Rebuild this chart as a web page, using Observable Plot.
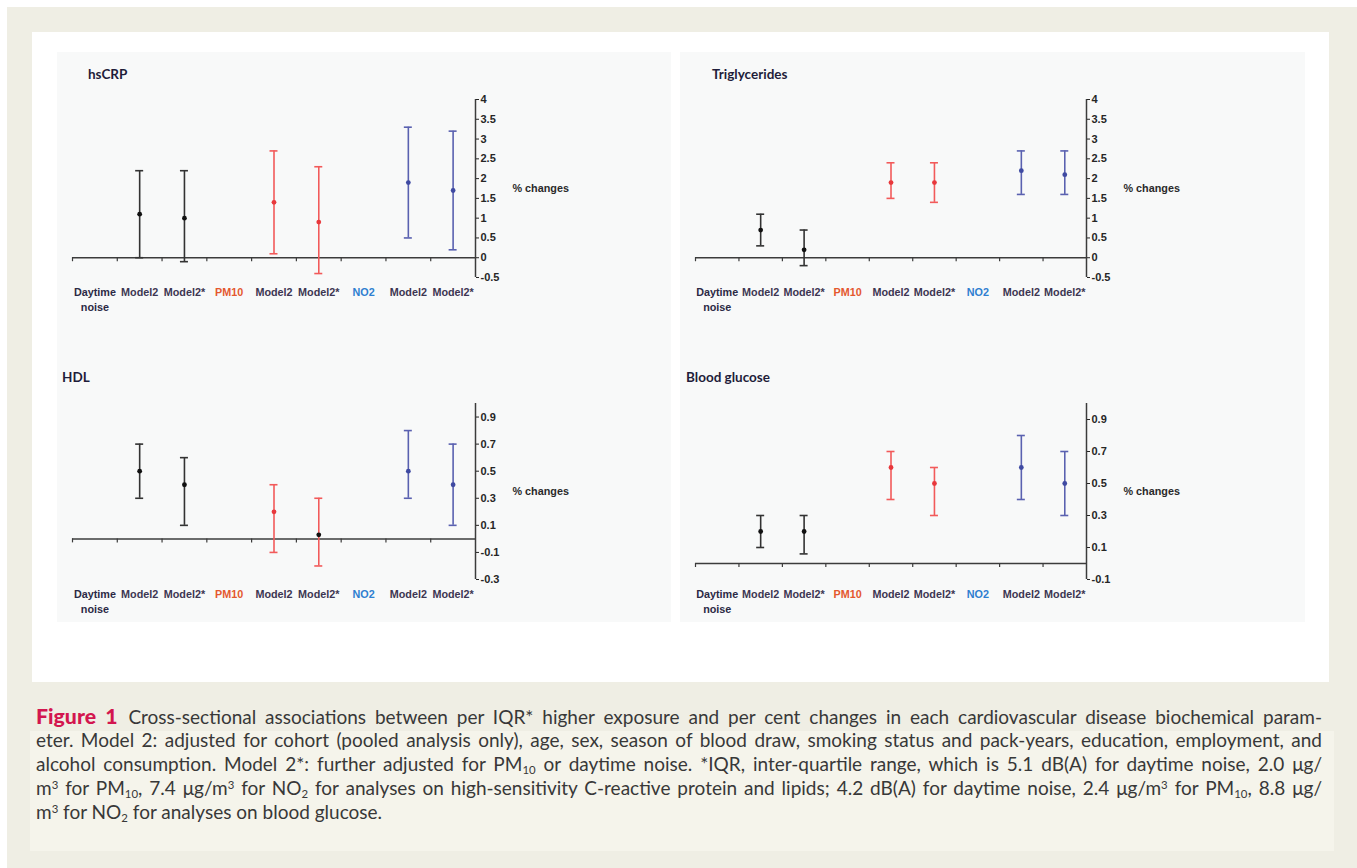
<!DOCTYPE html>
<html>
<head>
<meta charset="utf-8">
<script src="https://cdn.jsdelivr.net/npm/d3@7"></script>
<script src="https://cdn.jsdelivr.net/npm/@observablehq/plot@0.6"></script>
<style>
  html, body { margin: 0; padding: 0; background: #ffffff; }
  #root { position: relative; width: 1357px; height: 868px; overflow: hidden; font-family: "Liberation Sans", Arial, sans-serif; }
  .abs { position: absolute; }
  .title { position: absolute; font-family: Lato, "Open Sans", sans-serif; font-weight: 700; font-size: 13.5px; color: #1f1d3a; line-height: 1; transform: translateY(-50%); white-space: nowrap; }
  .cap { position: absolute; left: 36px; width: 1286px; font-family: Lato, "Open Sans", sans-serif; font-size: 18px; color: #383838; white-space: nowrap; text-align: justify; text-align-last: justify; line-height: 24px; height: 24px; }
  .cap.last { text-align-last: left; }
  .cap .sb, .cap .sp { font-size: 0.6em; line-height: 1; position: relative; vertical-align: baseline; display: inline-block; }
  .cap .sb { top: 0.3em; }
  .cap .sp { top: -0.55em; }
  .fig { color: #d3164f; font-weight: 900; font-size: 1.12em; margin-right: 2px; }
  svg { overflow: visible; }
</style>
</head>
<body>
<div id="root">
  <div class="abs" style="left:7px;top:7px;width:1350px;height:861px;background:#efeee4;"></div>
  <div class="abs" style="left:30px;top:731px;width:1304px;height:120px;background:#f5f4eb;"></div>
  <div class="abs" style="left:32px;top:32px;width:1297px;height:650px;background:#ffffff;"></div>
  <div class="abs" style="left:57px;top:52px;width:614px;height:570px;background:#f8f9f9;"></div>
  <div class="abs" style="left:680px;top:52px;width:625px;height:570px;background:#f8f9f9;"></div>
  <div id="charts"></div>
  <div class="title" style="left:88px;top:75px;">hsCRP</div>
  <div class="title" style="left:712px;top:75px;">Triglycerides</div>
  <div class="title" style="left:62px;top:378px;">HDL</div>
  <div class="title" style="left:686px;top:378px;">Blood glucose</div>

  <div class="cap" style="top:704px;"><span class="fig">Figure 1</span> Cross-sectional associations between per IQR* higher exposure and per cent changes in each cardiovascular disease biochemical param-</div>
  <div class="cap" style="top:728px;">eter. Model 2: adjusted for cohort (pooled analysis only), age, sex, season of blood draw, smoking status and pack-years, education, employment, and</div>
  <div class="cap" style="top:752px;">alcohol consumption. Model 2*: further adjusted for PM<span class="sb">10</span> or daytime noise. *IQR, inter-quartile range, which is 5.1 dB(A) for daytime noise, 2.0 μg/</div>
  <div class="cap" style="top:776px;">m<span class="sp">3</span> for PM<span class="sb">10</span>, 7.4 μg/m<span class="sp">3</span> for NO<span class="sb">2</span> for analyses on high-sensitivity C-reactive protein and lipids; 4.2 dB(A) for daytime noise, 2.4 μg/m<span class="sp">3</span> for PM<span class="sb">10</span>, 8.8 μg/</div>
  <div class="cap last" style="top:800px;">m<span class="sp">3</span> for NO<span class="sb">2</span> for analyses on blood glucose.</div>
</div>
<script>
// ---- Data ----
const xLabels = ["Daytime\nnoise", "Model2", "Model2*", "PM10", "Model2", "Model2*", "NO2", "Model2", "Model2*"];
// category index (into xLabels) of each estimate
const rowCategory = [1, 2, 4, 5, 7, 8];
const rowExposure = ["noise", "noise", "PM10", "PM10", "NO2", "NO2"];

const hsCRP_est = [1.1, 1.0, 1.4, 0.9, 1.9, 1.7];
const hsCRP_lo  = [0.0, -0.1, 0.1, -0.4, 0.5, 0.2];
const hsCRP_hi  = [2.2, 2.2, 2.7, 2.3, 3.3, 3.2];
const hsCRP_ticks = [-0.5, 0, 0.5, 1, 1.5, 2, 2.5, 3, 3.5, 4];

const tg_est = [0.7, 0.2, 1.9, 1.9, 2.2, 2.1];
const tg_lo  = [0.3, -0.2, 1.5, 1.4, 1.6, 1.6];
const tg_hi  = [1.1, 0.7, 2.4, 2.4, 2.7, 2.7];
const tg_ticks = [-0.5, 0, 0.5, 1, 1.5, 2, 2.5, 3, 3.5, 4];

const hdl_est = [0.5, 0.4, 0.2, 0.03, 0.5, 0.4];
const hdl_lo  = [0.3, 0.1, -0.1, -0.2, 0.3, 0.1];
const hdl_hi  = [0.7, 0.6, 0.4, 0.3, 0.8, 0.7];
const hdl_ticks = [-0.3, -0.1, 0.1, 0.3, 0.5, 0.7, 0.9];

const glu_est = [0.2, 0.2, 0.6, 0.5, 0.6, 0.5];
const glu_lo  = [0.1, 0.06, 0.4, 0.3, 0.4, 0.3];
const glu_hi  = [0.3, 0.3, 0.7, 0.6, 0.8, 0.7];
const glu_ticks = [-0.1, 0.1, 0.3, 0.5, 0.7, 0.9];

// ---- Styles ----
const barColor = {noise: "#333333", PM10: "#f25a5a", NO2: "#5a61b0"};
const dotColor = {noise: "#111111", PM10: "#e8383c", NO2: "#3f4aa2"};
const labelColor = ["#2c2a45", "#3d3652", "#3d3652", "#e4582f", "#3d3652", "#3d3652", "#2f7fd0", "#3d3652", "#3d3652"];
const hdlDotOverride = {3: "#111111"};

function panel({left, top, x0, x1, yTop, yBottom, domain, ticks, est, lo, hi, dotOverride = {}}) {
  const rows = est.map((v, i) => ({
    x: rowCategory[i] + 0.5, est: v, lo: lo[i], hi: hi[i], exp: rowExposure[i],
    dot: dotOverride[i] || dotColor[rowExposure[i]]
  }));
  const labels = xLabels.map((t, i) => ({x: i + 0.5, t, c: labelColor[i]}));
  const boundaries = d3.range(0, 9);
  const marginLeft = x0 - left, marginTop = yTop - top, marginRight = 110, marginBottom = 45;
  const chart = Plot.plot({
    width: x1 - left + marginRight,
    height: yBottom - top + marginBottom,
    marginLeft, marginTop, marginRight, marginBottom,
    style: {background: "transparent", overflow: "visible", fontFamily: "'Liberation Sans', Arial, sans-serif"},
    x: {domain: [0, 9], axis: null},
    y: {domain, axis: null},
    marks: [
      Plot.ruleY([0], {stroke: "#3c3c3c", strokeWidth: 1.5}),
      Plot.ruleX(boundaries, {x: d => d, y1: 0, y2: 0, insetBottom: -4, stroke: "#3c3c3c", strokeWidth: 1.2}),
      Plot.ruleX([9], {stroke: "#3c3c3c", strokeWidth: 1.5}),
      Plot.axisY(ticks, {anchor: "right", tickSize: 3, tickPadding: 2, tickFormat: d => String(d), fontSize: 11, fontWeight: "bold", color: "#262626", label: null}),
      Plot.ruleX(rows, {x: "x", y1: "lo", y2: "hi", stroke: d => barColor[d.exp], strokeWidth: 1.6}),
      Plot.ruleY(rows, {y: "hi", x1: "x", x2: "x", insetLeft: -4, insetRight: -4, stroke: d => barColor[d.exp], strokeWidth: 1.6}),
      Plot.ruleY(rows, {y: "lo", x1: "x", x2: "x", insetLeft: -4, insetRight: -4, stroke: d => barColor[d.exp], strokeWidth: 1.6}),
      Plot.dot(rows, {x: "x", y: "est", r: 2.4, fill: "dot", stroke: null}),
      Plot.text(labels, {x: "x", text: "t", frameAnchor: "bottom", lineAnchor: "top", dy: 9, fill: "c", fontSize: 10.8, fontWeight: "bold", lineHeight: 1.3}),
      Plot.text(["% changes"], {frameAnchor: "right", textAnchor: "start", dx: 37, fontSize: 10.8, fontWeight: "bold", fill: "#2a2a2a"})
    ]
  });
  chart.style.position = "absolute";
  chart.style.left = left + "px";
  chart.style.top = top + "px";
  document.getElementById("charts").appendChild(chart);
}

panel({left: 60, top: 80, x0: 72, x1: 475, yTop: 99, yBottom: 277, domain: [-0.5, 4], ticks: hsCRP_ticks, est: hsCRP_est, lo: hsCRP_lo, hi: hsCRP_hi});
panel({left: 683, top: 80, x0: 695, x1: 1086, yTop: 99, yBottom: 277, domain: [-0.5, 4], ticks: tg_ticks, est: tg_est, lo: tg_lo, hi: tg_hi});
panel({left: 60, top: 385, x0: 72, x1: 475, yTop: 403, yBottom: 579, domain: [-0.3, 1.0], ticks: hdl_ticks, est: hdl_est, lo: hdl_lo, hi: hdl_hi, dotOverride: hdlDotOverride});
panel({left: 683, top: 385, x0: 695, x1: 1086, yTop: 403, yBottom: 579, domain: [-0.1, 1.0], ticks: glu_ticks, est: glu_est, lo: glu_lo, hi: glu_hi});

// Fit caption font so the longest natural line fills the justified width
(function fitCaption() {
  const caps = Array.from(document.querySelectorAll(".cap"));
  const probe = document.createElement("span");
  probe.className = "cap";
  probe.style.cssText = "position:absolute;visibility:hidden;white-space:nowrap;width:auto;text-align:left;text-align-last:left;";
  document.getElementById("root").appendChild(probe);
  let base = 18, maxW = 0;
  probe.style.fontSize = base + "px";
  caps.slice(0, 4).forEach(c => { probe.innerHTML = c.innerHTML; maxW = Math.max(maxW, probe.getBoundingClientRect().width); });
  probe.remove();
  const size = Math.min(19, base * 1276 / maxW);
  caps.forEach(c => c.style.fontSize = size + "px");
})();
</script>
</body>
</html>
